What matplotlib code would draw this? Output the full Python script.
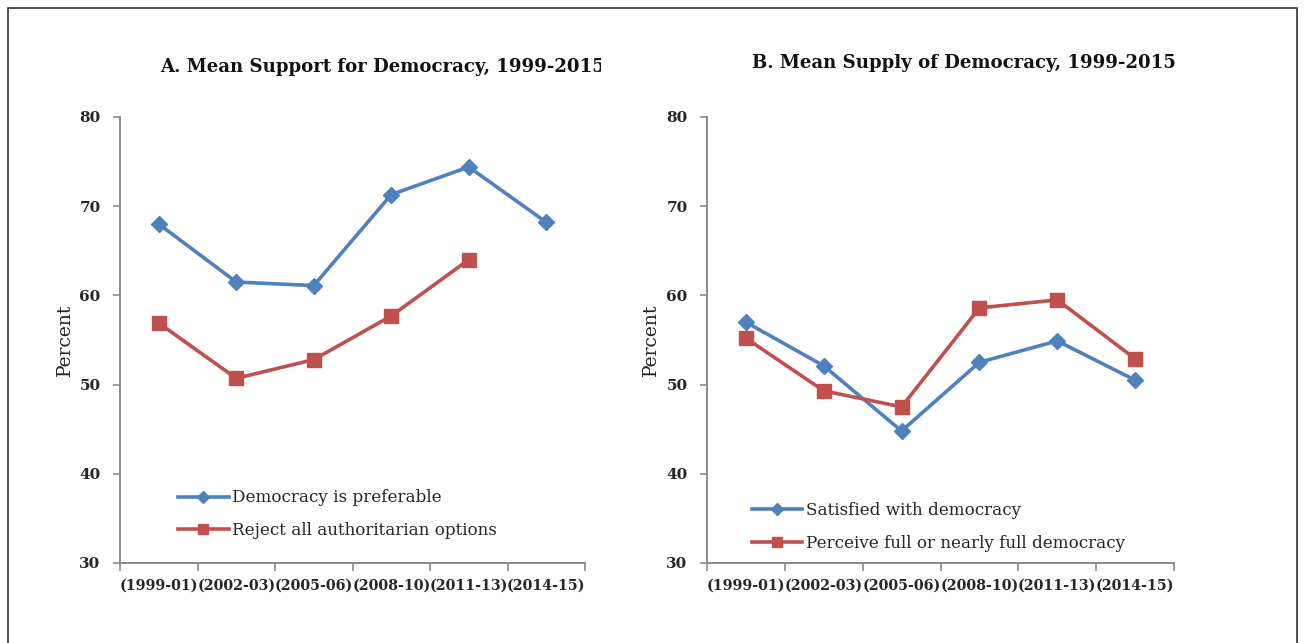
import numpy as np
import matplotlib
matplotlib.use("Agg")
import matplotlib.pyplot as plt
from matplotlib.patches import Rectangle
from matplotlib.transforms import Bbox, TransformedBbox

# ---- data ----
categories = ["(1999-01)", "(2002-03)", "(2005-06)", "(2008-10)", "(2011-13)", "(2014-15)"]
support_pref = [68.0, 61.5, 61.1, 71.3, 74.4, 68.2]
support_reject = [56.9, 50.7, 52.8, 57.7, 64.0, np.nan]
supply_satisfied = [57.0, 52.1, 44.8, 52.5, 54.9, 50.5]
supply_perceive = [55.2, 49.3, 47.5, 58.6, 59.5, 52.9]
yticks = [30, 40, 50, 60, 70, 80]

title_a = "A. Mean Support for Democracy, 1999-2015"
title_b = "B. Mean Supply of Democracy, 1999-2015"
labels_a = ["Democracy is preferable", "Reject all authoritarian options"]
labels_b = ["Satisfied with democracy", "Perceive full or nearly full democracy"]

BLUE = "#4F81BD"
RED = "#C0504D"
SPINE = "#8a8a8a"
TXT = "#262626"
FONT = "DejaVu Serif"

W, H = 1304, 643
fig = plt.figure(figsize=(W / 100, H / 100), dpi=100)
fig.patch.set_facecolor("white")

# outer border
fig.patches.append(Rectangle((8 / W, -0.05), (1297 - 8) / W, (H - 8) / H + 0.05,
                             transform=fig.transFigure, fill=False,
                             edgecolor="#333333", linewidth=1.2))


def px_axes(x0, x1, ytop, ybot):
    return fig.add_axes([x0 / W, (H - ybot) / H, (x1 - x0) / W, (ybot - ytop) / H])


def style(ax, s1, s2, labels, leg_anchor):
    x = np.arange(len(categories))
    ax.plot(x, s1, color=BLUE, lw=2.6, marker="D", ms=8.5, label=labels[0])
    ax.plot(x, s2, color=RED, lw=2.6, marker="s", ms=9.5, label=labels[1])
    ax.set_xlim(-0.5, len(categories) - 0.5)
    ax.set_ylim(30, 80)
    ax.set_yticks(yticks)
    ax.set_xticks(np.arange(len(categories) + 1) - 0.5)
    ax.set_xticklabels([])
    ax.set_xticks(x, minor=True)
    ax.set_xticklabels(categories, minor=True, fontsize=10.3, family=FONT,
                       color=TXT)
    ax.tick_params(axis="x", which="minor", length=0, pad=11)
    ax.tick_params(axis="x", which="major", length=6, color=SPINE, width=1.2)
    ax.tick_params(axis="y", length=5, color=SPINE, width=1.2, pad=9,
                   labelsize=11, labelcolor=TXT)
    for lab in ax.get_yticklabels():
        lab.set_family(FONT)
        lab.set_fontweight("bold")
    for lab in ax.get_xticklabels(minor=True):
        lab.set_fontweight("bold")
    for s in ["top", "right"]:
        ax.spines[s].set_visible(False)
    for s in ["left", "bottom"]:
        ax.spines[s].set_color(SPINE)
        ax.spines[s].set_linewidth(1.4)
    ax.set_ylabel("Percent", family=FONT, fontsize=13.5, color=TXT)
    ax.yaxis.set_label_coords(-0.1, 0.5)
    leg = ax.legend(loc="upper left", bbox_to_anchor=leg_anchor, frameon=False,
                    prop={"family": FONT, "size": 12.1}, handlelength=3.0,
                    handletextpad=0.22, labelspacing=0.95, borderpad=0,
                    borderaxespad=0, markerscale=0.75)
    for t in leg.get_texts():
        t.set_color(TXT)


ax1 = px_axes(120, 585, 117, 563)
style(ax1, support_pref, support_reject, labels_a, (0.125, 0.165))
ax2 = px_axes(707, 1174, 117, 563)
style(ax2, supply_satisfied, supply_perceive, labels_b, (0.096, 0.136))

# titles
ta = fig.text(160 / W, 1 - 67 / H, title_a, family=FONT, fontweight="bold",
              fontsize=13.1, color="#111111", ha="left", va="center")
ta.set_clip_box(TransformedBbox(Bbox.from_extents(0, 0, 601 / W, 1), fig.transFigure))
ta.set_clip_on(True)
fig.text(752 / W, 1 - 63 / H, title_b, family=FONT, fontweight="bold",
         fontsize=13.1, color="#111111", ha="left", va="center")

fig.savefig("out.png", dpi=100)
